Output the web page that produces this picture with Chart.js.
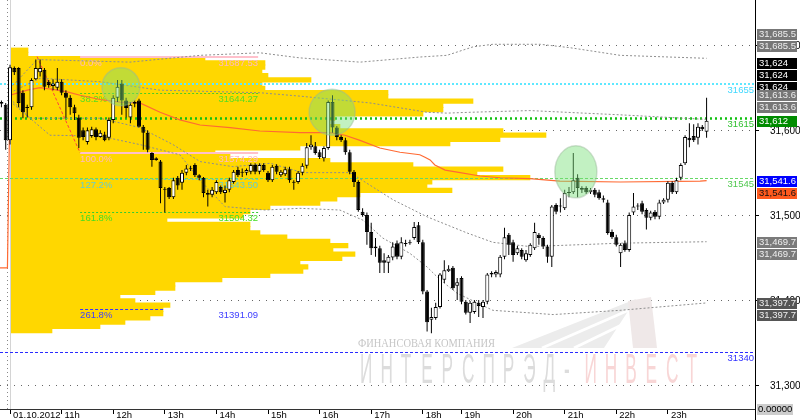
<!DOCTYPE html>
<html>
<head>
<meta charset="utf-8">
<script src="https://cdn.jsdelivr.net/npm/chart.js@4"></script>
<style>
html,body{margin:0;padding:0;background:#fff}
#wrap{width:800px;height:420px}
</style>
</head>
<body>
<div id="wrap"><canvas id="c" width="800" height="420"></canvas></div>
<script>
// RTS 5-min bars, 01.10.2012 (two bars of the previous day first)
const firstBar = -2;
const open = [31634,31631,31589,31674,31674,31645,31627,31628,31661,31669,31672,31658,
31653,31651,31658,31645,31639,31628,31616,31601,31587,31594,
31602,31593,31596,31592,31613,31639,31656,31636,31616,31632,
31636,31605,31598,31574,31568,31564,31531,31533,31522,31545,
31539,31551,31555,31560,31548,31545,31525,31525,31528,31534,
31527,31531,31540,31554,31551,31551,31552,31560,31552,31560,
31551,31542,31559,31548,31549,31555,31540,31540,31551,31559,
31581,31582,31575,31568,31580,31634,31604,31593,31589,31575,
31552,31540,31505,31501,31481,31462,31462,31448,31445,31451,
31468,31452,31467,31468,31474,31489,31469,31411,31378,31380,
31393,31425,31435,31439,31418,31427,31399,31386,31387,31398,
31393,31399,31431,31431,31431,31452,31478,31469,31456,31460,
31448,31454,31462,31478,31474,31464,31452,31513,31511,31509,
31527,31528,31545,31531,31533,31528,31531,31528,31521,31516,
31481,31475,31456,31468,31460,31504,31511,31515,31507,31498,
31505,31499,31516,31519,31539,31528,31545,31562,31592,31594,
31592,31605,31599];
const high = [31636,31633,31678,31676,31675,31648,31631,31662,31684,31684,31674,31660,
31661,31674,31661,31648,31642,31631,31619,31604,31604,31605,
31604,31601,31599,31616,31642,31660,31660,31639,31634,31636,
31638,31607,31601,31575,31569,31566,31534,31534,31545,31547,
31554,31560,31559,31562,31549,31546,31531,31534,31542,31536,
31536,31545,31554,31558,31556,31556,31562,31562,31562,31562,
31553,31560,31561,31554,31558,31558,31542,31553,31562,31586,
31595,31587,31578,31582,31636,31642,31606,31595,31592,31578,
31554,31542,31509,31504,31492,31474,31465,31456,31454,31469,
31471,31475,31472,31472,31493,31493,31472,31413,31392,31398,
31433,31448,31442,31441,31427,31429,31401,31400,31401,31401,
31401,31433,31435,31436,31454,31486,31480,31472,31465,31462,
31460,31468,31492,31480,31476,31466,31513,31515,31521,31531,
31534,31574,31549,31535,31535,31533,31533,31531,31524,31519,
31484,31478,31468,31471,31504,31527,31515,31518,31509,31506,
31507,31519,31521,31541,31541,31545,31562,31595,31609,31608,
31609,31607,31639];
const low = [31628,31578,31584,31666,31628,31615,31616,31625,31660,31664,31648,31651,
31648,31648,31642,31616,31619,31613,31580,31589,31584,31592,
31589,31592,31588,31589,31609,31634,31619,31616,31609,31628,
31604,31578,31575,31558,31565,31515,31504,31520,31520,31531,
31531,31548,31553,31546,31542,31522,31511,31522,31526,31526,
31516,31528,31538,31546,31546,31548,31549,31549,31549,31552,
31540,31540,31549,31546,31547,31539,31531,31538,31548,31556,
31578,31572,31567,31564,31578,31598,31589,31587,31572,31549,
31534,31505,31499,31466,31454,31452,31433,31433,31433,31448,
31449,31449,31464,31466,31472,31467,31408,31364,31362,31378,
31391,31421,31434,31413,31401,31396,31384,31374,31385,31381,
31380,31396,31428,31428,31428,31449,31454,31446,31454,31449,
31446,31452,31460,31466,31461,31445,31440,31502,31504,31507,
31522,31526,31522,31527,31526,31526,31522,31519,31516,31478,
31473,31464,31440,31458,31458,31501,31507,31502,31484,31495,
31496,31496,31514,31516,31526,31526,31542,31560,31581,31587,
31584,31600,31592];
const close = [31632,31589,31675,31669,31633,31622,31628,31660,31674,31674,31652,31654,
31656,31658,31645,31639,31628,31621,31592,31593,31601,31602,
31593,31598,31589,31613,31639,31652,31636,31627,31631,31634,
31605,31598,31578,31566,31566,31533,31532,31522,31542,31536,
31551,31556,31556,31548,31545,31527,31527,31531,31540,31528,
31531,31542,31552,31548,31552,31554,31560,31552,31560,31554,
31542,31558,31552,31552,31555,31542,31539,31551,31559,31581,
31584,31574,31569,31580,31634,31604,31593,31589,31575,31552,
31540,31507,31501,31481,31462,31464,31445,31445,31452,31464,
31452,31469,31468,31469,31487,31469,31411,31375,31381,31393,
31431,31436,31438,31415,31422,31399,31386,31398,31399,31394,
31399,31431,31433,31434,31452,31475,31466,31454,31462,31452,
31456,31466,31481,31474,31464,31452,31511,31505,31512,31527,
31528,31542,31533,31533,31528,31531,31525,31521,31519,31480,
31475,31466,31466,31460,31501,31511,31512,31505,31498,31504,
31499,31516,31519,31539,31528,31542,31560,31593,31589,31589,
31605,31602,31612];

// volume profile of the day
const profilePrice = [31695,31690,31685,31680,31675,31670,31665,31660,31655,31650,31645,31640,31635,31630,31625,31620,31615,31610,31605,31600,31595,31590,31585,31580,31575,31570,31565,31560,31555,31550,31545,31540,31535,31530,31525,31520,31515,31510,31505,31500,31495,31490,31485,31480,31475,31470,31465,31460,31455,31450,31445,31440,31435,31430,31425,31420,31415,31410,31405,31400,31395,31390,31385,31380,31375,31370,31365];
const profileVol = [17,17,194,254,254,251,257,300,251,254,377,377,462,432,432,412,324,319,329,492,535,489,439,289,204,219,319,402,492,466,519,421,416,441,349,326,309,259,239,232,156,239,239,249,276,319,337,322,344,331,289,297,292,259,211,164,164,144,109,124,159,152,152,139,114,89,41];

// vwap and its bands: [bar, price]
const vwap = [[-2.5,31439],[-0.6,31439],[0,31642],[4,31648],[7,31651],[10,31649],[13.3,31646],[16.3,31642],[20.9,31637],[25.6,31634],[30.2,31633],[34.9,31622],[39.5,31613],[44.2,31607],[51.2,31604],[58.1,31600],[67.4,31598],[74.4,31598],[77.9,31595],[81.4,31589],[86,31580],[90.7,31575],[95.3,31572],[96.5,31569],[97.7,31566],[98.8,31560],[101.2,31554],[104.7,31551],[109.3,31547],[114,31545],[120.9,31544],[127.9,31541],[141.9,31540],[160.5,31541],[162,31541.6]];
const band2Up = [[0,31650],[6.3,31684],[27.9,31681],[44.2,31689],[58.1,31692],[67.4,31686],[81.4,31681],[95.3,31687],[101.6,31689],[107.7,31699],[112.3,31702],[123.3,31702],[130.2,31698],[141.9,31689],[162,31685.5]];
const band1Up = [[0,31645],[7,31662],[20.9,31658],[34.9,31648],[58.1,31645],[67.4,31641],[83.7,31633],[97,31622],[101.6,31621],[107,31622],[120.9,31624],[141.9,31619],[162,31613.6]];
const band1Dn = [[0,31638],[4.7,31615],[20.9,31615],[30.2,31604],[37.9,31584],[44.2,31564],[51.9,31558],[60.5,31562],[68.1,31551],[79.1,31551],[89.1,31519],[97,31499],[106.3,31480],[112.3,31469],[120.9,31464],[141.9,31468],[162,31469.7]];
const band2Dn = [[0,31635],[9.3,31595],[20.9,31594],[30.2,31584],[39.5,31572],[44.2,31542],[50,31511],[59.3,31507],[67.4,31509],[76.7,31507],[82.1,31495],[86.7,31474],[93,31456],[97,31440],[100,31425],[104,31409],[112.3,31389],[120.9,31386],[126.3,31384],[141.9,31389],[162,31397.7]];

// horizontal levels and fibonacci drawing
const levelValues = [31655, 31615, 31545, 31340];
const fibLabels = ['0.0%','38.2%','100.0%','127.2%','161.8%','261.8%'];
const fibValues = [31687.53,31644.27,31574.29,31543.50,31504.32,31391.09];
const fibFrom = 16.3;
const fibTo = [57.7,57.7,57.7,57.7,57.7,35.6];
const fibAnchor = [[6.3,31687.53],[16.3,31574.29]];
const marks = [[25.8,31652],[74.9,31622],[131.6,31552]];

// axis
const hourPos = [0,12,24,36,48,60,72,84,96,105,117,129,141,153];
const hourLabels = ['01.10.2012','11h','12h','13h','14h','15h','16h','17h','18h','19h','20h','21h','22h','23h'];
const yTicks = [31300,31400,31500,31600,31700];
const tagValues = [31685.5,31685.5,31624,31624,31624,31613.6,31613.6,31612,31541.6,31541.6,31469.7,31469.7,31397.7,31397.7];
const zeroTag = '0.00000';
const brand = 'ИНТЕРСПРЭД-ИНВЕСТ';
const brandCaption = 'ФИНАНСОВАЯ КОМПАНИЯ';

// styles
const FONT = "'Liberation Sans', Arial, sans-serif";
const levelColor = ['#5fe8ff','#10c010','#66d866','#2a2aff'];
const levelText = ['#3fd8ff','#30c030','#50c850','#3030ff'];
const levelDash = [[2,2],[2,3],[3,2],[3,2]];
const levelWidth = [2,2.5,1,1];
const fibColor = ['#ffc0cb','#4ccc22','#ffc0cb','#66cccc','#33cc33','#3535ff'];
const fibTextColor = ['#ffb8c4','#55dd22','#ffb8c4','#66cccc','#44dd22','#4040ff'];
const fibDash = [[],[2,2],[],[2,2],[2,2],[3,2]];
const fibWidth = [2,1,2,1,1,1];
const markRx = [19,23,21];
const markRy = [19,23,26];
const tagShift = [-2,-1,-4,-3,-2,-2,-1,0,0,1,0,1,0,1];
const tagBg = ['#777','#777','#000','#000','#000','#777','#777','#008c00','#0000ff','#ff5a1e','#7a7a7a','#7a7a7a','#555','#555'];
const tagFg = ['#eee','#eee','#fff','#fff','#fff','#eee','#eee','#fff','#fff','#111','#eee','#eee','#eee','#eee'];

const bars = open.map((_, k) => k + firstBar);
const toXY = ([i, p]) => ({x: i, y: p});
const fmt = v => v.toLocaleString('en-US', {minimumFractionDigits: v % 1 ? 1 : 0, maximumFractionDigits: 1});

function hline(c, x1, x2, y) { c.beginPath(); c.moveTo(x1, y); c.lineTo(x2, y); c.stroke(); }

function drawWatermark(chart) {
  const c = chart.ctx;
  c.save();
  c.fillStyle = '#ececec';
  c.beginPath(); c.moveTo(512,348); c.lineTo(604,348); c.lineTo(636,299); c.closePath(); c.fill();
  c.strokeStyle = '#fff'; c.lineWidth = 3;
  c.beginPath(); c.moveTo(542,348); c.lineTo(636,307); c.stroke();
  c.beginPath(); c.moveTo(574,348); c.lineTo(636,318); c.stroke();
  c.fillStyle = '#efe8e8';
  c.beginPath(); c.moveTo(628,301); c.lineTo(651,297); c.lineTo(657,348); c.lineTo(633,348); c.closePath(); c.fill();

  c.fillStyle = '#c6c6c6';
  c.font = "12px 'Liberation Serif', serif";
  c.textBaseline = 'alphabetic';
  const w = c.measureText(brandCaption).width;
  c.save(); c.translate(358, 347); c.scale(137 / w, 1); c.fillText(brandCaption, 0, 0); c.restore();

  c.font = "43px " + FONT;
  brand.split('').forEach((ch, k) => {
    c.save();
    c.translate(360 + k * 20.4, 383);
    c.scale(0.4, 1);
    c.fillStyle = k < 11 ? '#dcdcdc' : '#f8d6d6';
    c.fillText(ch, 0, 0);
    c.restore();
  });
  c.restore();
}

function drawLevels(chart) {
  const {ctx: c, chartArea: a, scales: {x, y, xv}} = chart;
  c.save();
  // day separator + profile base
  c.strokeStyle = '#888'; c.lineWidth = 1; c.setLineDash([1,3]);
  const xs = Math.round(x.getPixelForValue(-0.75)) + 0.5;
  c.beginPath(); c.moveTo(xs, a.top); c.lineTo(xs, a.bottom); c.stroke();
  c.setLineDash([]); c.strokeStyle = '#d4d4d4';
  const xb = Math.round(xv.getPixelForValue(0)) - 0.5;
  c.beginPath(); c.moveTo(xb, a.top); c.lineTo(xb, a.bottom); c.stroke();

  levelValues.forEach((v, k) => {
    c.strokeStyle = levelColor[k]; c.lineWidth = levelWidth[k]; c.setLineDash(levelDash[k]);
    hline(c, a.left, a.right, Math.round(y.getPixelForValue(v)) + (levelWidth[k] % 2 ? 0.5 : 0));
  });

  const xf = x.getPixelForValue(fibFrom);
  fibValues.forEach((v, k) => {
    c.strokeStyle = fibColor[k]; c.lineWidth = fibWidth[k]; c.setLineDash(fibDash[k]);
    hline(c, xf, x.getPixelForValue(fibTo[k]), Math.round(y.getPixelForValue(v)) + (fibWidth[k] % 2 ? 0.5 : 0));
  });
  c.strokeStyle = '#ff4040'; c.lineWidth = 1; c.setLineDash([3,2]);
  c.beginPath();
  c.moveTo(x.getPixelForValue(fibAnchor[0][0]), y.getPixelForValue(fibAnchor[0][1]));
  c.lineTo(x.getPixelForValue(fibAnchor[1][0]), y.getPixelForValue(fibAnchor[1][1]));
  c.stroke();

  c.setLineDash([]);
  c.font = "9.5px " + FONT; c.textBaseline = 'top';
  fibValues.forEach((v, k) => {
    const yy = Math.round(y.getPixelForValue(v)) + 2;
    c.fillStyle = fibTextColor[k];
    c.textAlign = 'left'; c.fillText(fibLabels[k], xf, yy);
    c.textAlign = 'right'; c.fillText(v.toFixed(2), x.getPixelForValue(57.7), yy);
  });
  c.restore();
}

const overlay = {
  id: 'overlay',
  beforeDatasetsDraw(chart) { drawWatermark(chart); },
  afterDatasetDraw(chart, args) { if (args.index === 0) drawLevels(chart); },
  afterDatasetsDraw(chart) {
    const {ctx: c, chartArea: a, scales: {x, y}} = chart;
    c.save();
    marks.forEach(([i, p], k) => {
      c.beginPath();
      c.ellipse(x.getPixelForValue(i), y.getPixelForValue(p), markRx[k], markRy[k], 0, 0, Math.PI * 2);
      c.fillStyle = 'rgba(120,225,120,0.45)'; c.fill();
      c.strokeStyle = 'rgba(150,185,150,0.45)'; c.lineWidth = 1.5; c.stroke();
    });
    c.font = "9.5px " + FONT; c.textAlign = 'right'; c.textBaseline = 'top';
    levelValues.forEach((v, k) => {
      c.fillStyle = levelText[k];
      c.fillText(String(v), a.right - 1, Math.round(y.getPixelForValue(v)) + 2);
    });
    c.restore();
  },
  afterDraw(chart) {
    const {ctx: c, chartArea: a, scales: {y}} = chart;
    c.save();
    c.strokeStyle = '#000'; c.lineWidth = 1;
    c.beginPath(); c.moveTo(a.right + 0.5, a.bottom); c.lineTo(a.right + 0.5, chart.height); c.stroke();
    c.font = "9.5px " + FONT; c.textAlign = 'left'; c.textBaseline = 'middle';
    tagValues.forEach((v, k) => {
      const cy = Math.round(y.getPixelForValue(v)) + tagShift[k] * 12;
      c.fillStyle = tagBg[k]; c.fillRect(a.right + 2, cy - 5, 40, 11);
      c.fillStyle = tagFg[k]; c.fillText(fmt(v), a.right + 4, cy + 0.5);
    });
    c.fillStyle = '#cdcdcd'; c.fillRect(a.right + 2, a.bottom - 5, 36, 11);
    c.fillStyle = '#000'; c.fillText(zeroTag, a.right + 3, a.bottom + 0.5);
    c.restore();
  }
};

Chart.defaults.font.family = FONT;

new Chart(document.getElementById('c'), {
  type: 'bar',
  data: {
    datasets: [
      { type: 'bar', label: 'profile', indexAxis: 'y', xAxisID: 'xv', yAxisID: 'y',
        data: profilePrice.map((p, k) => ({x: profileVol[k], y: p})),
        backgroundColor: '#ffd700', barThickness: 4.6, grouped: false, order: 20 },
      { type: 'line', label: 'band2Up', xAxisID: 'x', yAxisID: 'y', data: band2Up.map(toXY),
        borderColor: '#8e8e8e', borderWidth: 1, borderDash: [2,2], pointRadius: 0, order: 6 },
      { type: 'line', label: 'band1Up', xAxisID: 'x', yAxisID: 'y', data: band1Up.map(toXY),
        borderColor: '#8e8e8e', borderWidth: 1, borderDash: [2,2], pointRadius: 0, order: 6 },
      { type: 'line', label: 'band1Dn', xAxisID: 'x', yAxisID: 'y', data: band1Dn.map(toXY),
        borderColor: '#8e8e8e', borderWidth: 1, borderDash: [2,2], pointRadius: 0, order: 6 },
      { type: 'line', label: 'band2Dn', xAxisID: 'x', yAxisID: 'y', data: band2Dn.map(toXY),
        borderColor: '#8e8e8e', borderWidth: 1, borderDash: [2,2], pointRadius: 0, order: 6 },
      { type: 'line', label: 'vwap', xAxisID: 'x', yAxisID: 'y', data: vwap.map(toXY),
        borderColor: '#ff6a33', borderWidth: 1.2, pointRadius: 0, order: 5 },
      { type: 'bar', label: 'wick', xAxisID: 'x', yAxisID: 'y',
        data: bars.map((i, k) => ({x: i, y: [low[k], high[k]]})),
        backgroundColor: '#000', barThickness: 1, inflateAmount: 0, grouped: false, minBarLength: 1, order: 2 },
      { type: 'bar', label: 'body', xAxisID: 'x', yAxisID: 'y',
        data: bars.map((i, k) => ({x: i, y: [open[k], close[k]]})),
        backgroundColor: bars.map((_, k) => close[k] >= open[k] ? '#fff' : '#000'),
        borderColor: '#000', borderWidth: 1, borderSkipped: false, inflateAmount: 0,
        barThickness: 4, grouped: false, minBarLength: 1, order: 1 }
    ]
  },
  options: {
    responsive: false,
    animation: false,
    events: [],
    layout: { padding: 0 },
    plugins: { legend: { display: false }, tooltip: { enabled: false } },
    scales: {
      x: {
        type: 'linear', position: 'bottom', min: -2.33, max: 173.26, offset: false,
        grid: { drawOnChartArea: false, drawTicks: true, tickLength: 5, color: '#000', offset: false },
        border: { display: true, color: '#333' },
        afterBuildTicks: s => { s.ticks = hourPos.map(v => ({value: v})); },
        afterFit: s => { s.height = 11; s.paddingLeft = 0; s.paddingRight = 0; },
        ticks: { autoSkip: false, maxRotation: 0, minRotation: 0, align: 'start', padding: -4, labelOffset: 3,
          color: '#000', font: { size: 9.5 }, callback: v => hourLabels[hourPos.indexOf(v)] }
      },
      xv: { type: 'linear', position: 'bottom', display: false, min: -11, max: 744, offset: false, grid: { offset: false } },
      y: {
        type: 'linear', position: 'right', min: 31272.9, max: 31754.1, offset: false, beginAtZero: false,
        grid: { color: '#666', lineWidth: 1, tickLength: 4, tickColor: '#000', offset: false },
        border: { display: true, color: '#000', dash: [1,6] },
        afterBuildTicks: s => { s.ticks = yTicks.map(v => ({value: v})); },
        afterFit: s => { s.width = 45; s.paddingTop = 0; s.paddingBottom = 0; },
        ticks: { padding: 11, color: '#000', font: { size: 10 }, callback: v => v.toLocaleString('en-US') }
      }
    }
  },
  plugins: [overlay]
});
</script>
</body>
</html>
